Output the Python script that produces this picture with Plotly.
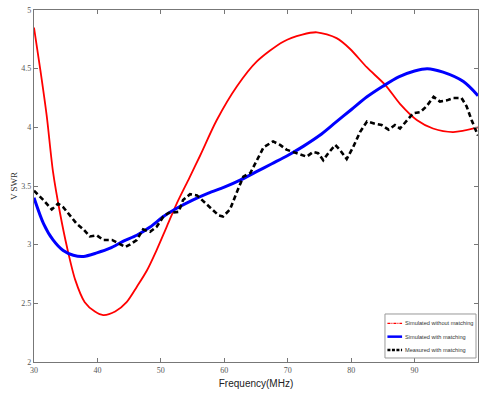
import plotly.graph_objects as go

# Simulated without matching (red)
red_freq = [30, 31, 32, 33, 34.1, 35.2, 36.5, 38, 39.6, 40.9, 42.8, 44.6, 46.2, 47.8, 49.3,
            50.9, 52.5, 54.5, 56.2, 58.8, 62, 65.1, 69.3, 72.3, 74.6, 77.7, 79.8, 82.5,
            85.4, 87.7, 90.4, 92.9, 96.1, 100]
red_vswr = [4.85, 4.49, 4.1, 3.62, 3.27, 2.98, 2.70, 2.51, 2.43, 2.40, 2.43, 2.51, 2.64, 2.78, 2.95,
            3.15, 3.35, 3.57, 3.76, 4.06, 4.35, 4.56, 4.73, 4.79, 4.81, 4.76, 4.67, 4.51,
            4.36, 4.20, 4.06, 3.99, 3.96, 4.00]

# Simulated with matching (blue)
blue_freq = [30, 31.5, 33, 34.6, 36.2, 37.8, 39.9, 42, 44.1, 46.2, 48.3, 50.4, 52.5, 55, 57.5,
             60, 62.5, 65, 67.5, 70, 72.5, 75, 77.5, 80, 82.5, 85, 87.5, 90, 92, 94.5, 97.7, 100]
blue_vswr = [3.40, 3.18, 3.04, 2.95, 2.91, 2.90, 2.93, 2.97, 3.03, 3.08, 3.15, 3.24, 3.31, 3.38, 3.44,
             3.49, 3.55, 3.62, 3.69, 3.76, 3.84, 3.93, 4.04, 4.15, 4.26, 4.35, 4.43, 4.48, 4.50, 4.47,
             4.39, 4.27]

# Measured with matching (black dashed)
meas_freq = [30, 30.4, 31.5, 32.8, 33.8, 34.6, 35.7, 36.7, 37.8, 38.8, 39.9, 40.9, 42.3, 43.3,
             44.4, 45.1, 46.2, 47.2, 48.3, 49.3, 50.4, 51.2, 52.8, 53.5, 54.6, 55.7, 56.7, 57.8,
             59.1, 59.8, 60.9, 62.0, 63.0, 64.1, 65.1, 66.2, 67.7, 68.8, 69.8, 71.4, 73.0, 74.0,
             74.8, 75.6, 76.4, 77.5, 78.2, 79.3, 80.3, 81.4, 82.5, 83.8, 84.8, 85.9, 86.9, 87.7,
             88.8, 89.8, 90.9, 91.9, 93.0, 94.0, 95.1, 96.1, 97.4, 98.2, 99.0, 99.8, 100]
meas_vswr = [3.46, 3.44, 3.38, 3.30, 3.35, 3.32, 3.25, 3.18, 3.13, 3.07, 3.08, 3.04, 3.04, 3.01,
             2.98, 3.00, 3.04, 3.13, 3.11, 3.15, 3.24, 3.27, 3.28, 3.38, 3.43, 3.42, 3.37, 3.31,
             3.25, 3.24, 3.30, 3.45, 3.58, 3.61, 3.72, 3.83, 3.88, 3.85, 3.81, 3.78, 3.75, 3.79,
             3.78, 3.72, 3.78, 3.85, 3.81, 3.73, 3.83, 3.96, 4.05, 4.03, 4.02, 3.98, 4.02, 3.99,
             4.06, 4.12, 4.13, 4.18, 4.26, 4.22, 4.23, 4.25, 4.25, 4.18, 4.06, 3.95, 3.93]

series_names = ["Simulated without matching", "Simulated with matching", "Measured with matching"]

x_ticks = [30, 40, 50, 60, 70, 80, 90, 100]
y_ticks = [2, 2.5, 3, 3.5, 4, 4.5, 5]
y_tick_text = ["2", "2.5", "3", "3.5", "4", "4.5", "5"]

styles = [
    dict(color="#ff0000", width=1.8, shape="spline", smoothing=0.8),
    dict(color="#0000ff", width=3, shape="spline", smoothing=0.8),
    dict(color="#000000", width=2.6, dash="5px,3px"),
]
legend_styles = [
    dict(color="#ff0000", width=1.2, dash="3px,1px,1px,1px"),
    dict(color="#0000ff", width=2.5),
    dict(color="#000000", width=2.5, dash="3px,1.5px"),
]

fig = go.Figure()
for xs, ys, nm, st in zip([red_freq, blue_freq, meas_freq], [red_vswr, blue_vswr, meas_vswr],
                          series_names, styles):
    fig.add_trace(go.Scatter(x=xs, y=ys, mode="lines", name=nm, line=st, showlegend=False))

# Compact legend box (drawn in paper coordinates)
fig.add_shape(type="rect", xref="paper", yref="paper", x0=0.7905, x1=0.9955, y0=0.0114, y1=0.1364,
              line=dict(color="#999999", width=1), fillcolor="white", layer="above")
row_y = [0.110, 0.072, 0.034]
for nm, ls, yy in zip(series_names, legend_styles, row_y):
    fig.add_shape(type="line", xref="paper", yref="paper", x0=0.796, x1=0.829, y0=yy, y1=yy,
                  line=ls, layer="above")
    fig.add_annotation(text=nm, xref="paper", yref="paper", x=0.831, y=yy, xanchor="left",
                       yanchor="middle", showarrow=False,
                       font=dict(family="Liberation Sans", size=5.6, color="#333333"))

axis_common = dict(showgrid=False, zeroline=False, showline=True, linecolor="#777777",
                   linewidth=1.2, mirror="ticks", ticks="inside", ticklen=4, tickcolor="#777777",
                   tickfont=dict(family="Liberation Serif", size=8, color="#555555"))

fig.update_xaxes(range=[30, 100], tickvals=x_ticks, ticktext=[str(v) for v in x_ticks],
                 title=dict(text="Frequency(MHz)", standoff=6,
                            font=dict(family="Liberation Sans", size=10, color="#222222")),
                 **axis_common)
fig.update_yaxes(range=[2, 5], tickvals=y_ticks, ticktext=y_tick_text,
                 title=dict(text="V SWR", standoff=2,
                            font=dict(family="Liberation Serif", size=9, color="#333333")),
                 **axis_common)

fig.update_layout(
    width=479, height=393,
    margin=dict(l=34, r=1, t=10, b=31, autoexpand=False),
    paper_bgcolor="white", plot_bgcolor="white",
    showlegend=False,
)

fig.write_html("out.html", config={"displayModeBar": False},
               post_script="document.body.style.margin='0';document.body.style.overflow='hidden';")
